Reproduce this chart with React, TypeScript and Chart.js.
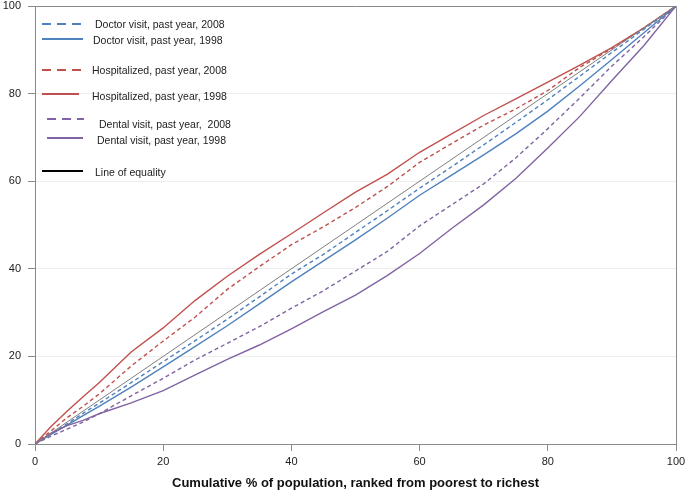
import React, { useEffect, useRef } from "react";
import { Chart, registerables } from "chart.js";

Chart.register(...registerables);

// Cumulative % of population (x)
const xPct = [0, 2.5, 5, 7.5, 10, 15, 20, 25, 30, 35, 40, 45, 50, 55, 60, 65, 70, 75, 80, 85, 90, 95, 100];

const doctor2008 = [0, 2.3, 4.6, 7, 9.3, 14, 18.8, 23.6, 28.5, 33.6, 38.8, 43.3, 48.3, 53.3, 58.4, 63.3, 68.3, 73.4, 78.6, 84, 89.4, 94.7, 100];
const doctor1998 = [0, 2.2, 4.3, 6.5, 8.6, 13, 17.6, 22.3, 27, 32, 37, 41.8, 46.6, 51.6, 56.8, 61.4, 66, 70.8, 76, 81.8, 87.8, 93.9, 100];
const hosp2008 = [0, 3, 6, 8.6, 11.4, 17.8, 23.5, 29, 35.3, 40.5, 45.5, 49.6, 54, 58.8, 64.3, 68.6, 72.8, 76.5, 80.7, 86, 90.3, 95, 100];
const hosp1998 = [0, 4, 7.5, 10.8, 14, 21, 26.5, 32.8, 38.3, 43.3, 48, 52.8, 57.5, 61.6, 66.6, 70.8, 75, 78.8, 82.6, 86.5, 90.5, 95, 100];
const dental2008 = [0, 1.8, 3.4, 5, 6.9, 11, 15, 19.2, 23, 26.8, 31, 35, 39.5, 44, 49.8, 54.6, 59.4, 65.3, 72, 79, 86.3, 93, 100];
const dental1998 = [0, 2.5, 4.2, 5.4, 6.9, 9.4, 12.2, 15.8, 19.3, 22.6, 26.3, 30.2, 34, 38.5, 43.5, 49.2, 54.6, 60.6, 67.6, 74.8, 83, 91, 100];
const equalityX = [0, 100];
const equalityY = [0, 100];

const tickValues = [0, 20, 40, 60, 80, 100];

const legendLabels = [
  "Doctor visit, past year, 2008",
  "Doctor visit, past year, 1998",
  "Hospitalized, past year, 2008",
  "Hospitalized, past year, 1998",
  "Dental visit, past year,  2008",
  "Dental visit, past year, 1998",
  "Line of equality",
];

const xTitle = "Cumulative % of population, ranked from poorest to richest";

const BLUE = "#4f81bd";
const RED = "#c0504d";
const PURPLE = "#8064a2";
const GRAY = "#8a8a8a";

// legend layout (pixel positions, styling only)
const legendLayout = [
  { color: BLUE, dashed: true, lx: 42, lw: 39, ly: 24, tx: 95, ty: 24 },
  { color: BLUE, dashed: false, lx: 42, lw: 41, ly: 39, tx: 93, ty: 40 },
  { color: RED, dashed: true, lx: 42, lw: 39, ly: 70, tx: 92, ty: 70 },
  { color: RED, dashed: false, lx: 42, lw: 37, ly: 94, tx: 92, ty: 96 },
  { color: PURPLE, dashed: true, lx: 47, lw: 37, ly: 119, tx: 99, ty: 124 },
  { color: PURPLE, dashed: false, lx: 47, lw: 36, ly: 138, tx: 97, ty: 140 },
  { color: "#000000", dashed: false, lx: 42, lw: 41, ly: 171, tx: 95, ty: 172 },
];

const toPoints = (xs: number[], ys: number[]) => xs.map((x, i) => ({ x, y: ys[i] }));

const boxPlugin = {
  id: "boxPlugin",
  beforeDatasetsDraw(chart: any) {
    const { ctx, chartArea: a } = chart;
    ctx.save();
    ctx.strokeStyle = GRAY;
    ctx.lineWidth = 1;
    ctx.beginPath();
    ctx.moveTo(Math.round(a.left), Math.round(a.top) + 0.5);
    ctx.lineTo(Math.round(a.right) + 0.5, Math.round(a.top) + 0.5);
    ctx.lineTo(Math.round(a.right) + 0.5, Math.round(a.bottom));
    ctx.stroke();
    ctx.restore();
  },
};

export default function App() {
  const ref = useRef<HTMLCanvasElement | null>(null);

  useEffect(() => {
    if (!ref.current) return;
    const line = (data: number[], color: string, dashed: boolean, width = 1.4) => ({
      data: toPoints(xPct, data),
      borderColor: color,
      backgroundColor: color,
      borderWidth: width,
      borderDash: dashed ? [4, 3] : [],
      pointRadius: 0,
      fill: false,
      tension: 0,
    });
    const chart = new Chart(ref.current, {
      type: "line",
      data: {
        datasets: [
          {
            data: toPoints(equalityX, equalityY),
            borderColor: "#7f7f7f",
            borderWidth: 1,
            pointRadius: 0,
            fill: false,
          },
          line(dental1998, PURPLE, false),
          line(dental2008, PURPLE, true),
          line(doctor1998, BLUE, false),
          line(doctor2008, BLUE, true),
          line(hosp1998, RED, false),
          line(hosp2008, RED, true),
        ] as any,
      },
      options: {
        animation: false,
        responsive: false,
        devicePixelRatio: 1,
        layout: { padding: { top: 6, right: 9, left: 0, bottom: 0 } },
        plugins: { legend: { display: false }, tooltip: { enabled: false }, title: { display: false } },
        scales: {
          x: {
            type: "linear",
            min: 0,
            max: 100,
            afterBuildTicks: (s: any) => {
              s.ticks = tickValues.map((v) => ({ value: v }));
            },
            afterFit: (s: any) => {
              s.height = 49;
              s.paddingLeft = 0;
              s.paddingRight = 0;
              s.paddingTop = 0;
              s.paddingBottom = 0;
            },
            ticks: { color: "#222", font: { family: "Liberation Sans, Arial", size: 11 }, padding: 4, maxRotation: 0 },
            grid: { drawOnChartArea: false, tickLength: 7, tickColor: GRAY, color: GRAY },
            border: { color: GRAY, width: 1 },
          },
          y: {
            type: "linear",
            min: 0,
            max: 100,
            afterBuildTicks: (s: any) => {
              s.ticks = tickValues.map((v) => ({ value: v }));
            },
            afterFit: (s: any) => {
              s.width = 35;
              s.paddingLeft = 0;
              s.paddingRight = 0;
              s.paddingTop = 0;
              s.paddingBottom = 0;
            },
            ticks: { color: "#222", font: { family: "Liberation Sans, Arial", size: 11 }, padding: 7 },
            grid: { color: "#eeeeee", tickLength: 7, tickColor: GRAY },
            border: { color: GRAY, width: 1 },
          },
        },
      } as any,
      plugins: [boxPlugin],
    });
    return () => chart.destroy();
  }, []);

  return (
    <div style={{ position: "absolute", left: 0, top: 0, width: 685, height: 493, background: "#fff" }}>
      <canvas ref={ref} width={685} height={493} style={{ display: "block", width: 685, height: 493 }} />
      {legendLayout.map((l, i) => (
        <React.Fragment key={i}>
          <div
            style={{
              position: "absolute",
              left: l.lx,
              top: l.ly - 1,
              width: l.lw,
              height: 2,
              background: l.dashed
                ? `repeating-linear-gradient(to right, ${l.color} 0px, ${l.color} 9px, transparent 9px, transparent 15px)`
                : l.color,
            }}
          />
          <div
            style={{
              position: "absolute",
              left: l.tx,
              top: l.ty - 7,
              height: 14,
              lineHeight: "14px",
              fontFamily: "'Liberation Sans', Arial, sans-serif",
              fontSize: 10.5,
              color: "#222",
              whiteSpace: "pre",
            }}
          >
            {legendLabels[i]}
          </div>
        </React.Fragment>
      ))}
      <div
        style={{
          position: "absolute",
          left: 35,
          width: 641,
          top: 474,
          lineHeight: "18px",
          textAlign: "center",
          fontFamily: "'Liberation Sans', Arial, sans-serif",
          fontWeight: "bold",
          fontSize: 13,
          color: "#111",
        }}
      >
        {xTitle}
      </div>
    </div>
  );
}
